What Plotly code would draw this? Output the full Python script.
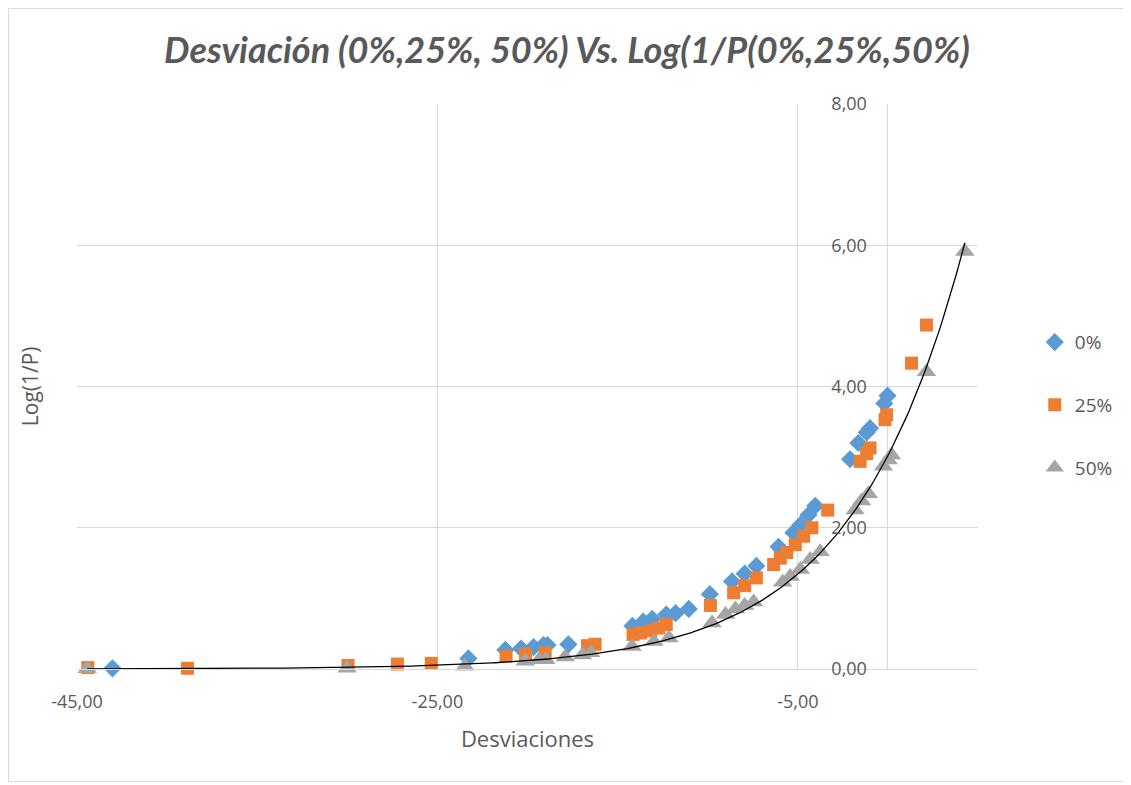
import numpy as np
import plotly.graph_objects as go

# ---- data ----
x_0 = [-43.03, -23.28, -21.23, -20.36, -19.66, -19.11, -18.89, -17.73, -14.18, -13.58,
       -13.08, -12.30, -11.78, -11.05, -9.88, -8.65, -7.95, -7.30, -6.07, -5.24,
       -4.86, -4.41, -4.03, -2.10, -1.64, -1.18, -0.99, -0.20, -0.02]
y_0 = [0.01, 0.15, 0.27, 0.29, 0.31, 0.34, 0.34, 0.35, 0.61, 0.67,
       0.71, 0.77, 0.79, 0.85, 1.06, 1.24, 1.35, 1.46, 1.73, 1.93,
       2.04, 2.18, 2.31, 2.97, 3.20, 3.35, 3.41, 3.76, 3.87]

x_25 = [-44.40, -38.87, -29.96, -27.22, -25.34, -21.19, -20.11, -19.02, -16.67, -16.25,
        -14.14, -13.72, -13.17, -12.71, -12.30, -9.85, -8.56, -7.95, -7.30, -6.34,
        -5.97, -5.61, -5.14, -4.68, -4.22, -3.34, -1.54, -1.18, -0.99, -0.16,
        -0.07, 1.31, 2.14]
y_25 = [0.02, 0.01, 0.05, 0.07, 0.08, 0.18, 0.21, 0.23, 0.33, 0.35,
        0.49, 0.51, 0.54, 0.58, 0.63, 0.90, 1.08, 1.18, 1.29, 1.48,
        1.57, 1.65, 1.76, 1.88, 2.00, 2.25, 2.94, 3.05, 3.13, 3.53,
        3.60, 4.33, 4.87]

x_50 = [-44.43, -30.01, -23.47, -20.12, -19.35, -18.98, -17.91, -16.95, -16.49, -14.20,
        -12.98, -12.15, -9.76, -9.01, -8.46, -7.95, -7.45, -5.84, -5.42, -4.86,
        -4.31, -3.76, -1.82, -1.46, -1.08, -0.25, 0.02, 0.20, 2.14, 4.27]
y_50 = [0.004, 0.012, 0.04, 0.11, 0.13, 0.13, 0.17, 0.20, 0.23, 0.32,
        0.39, 0.44, 0.65, 0.77, 0.85, 0.90, 0.95, 1.23, 1.31, 1.41,
        1.55, 1.66, 2.25, 2.38, 2.48, 2.87, 2.96, 3.03, 4.21, 5.91]

series_names = ["0%", "25%", "50%"]
x_tick_vals = [-45, -25, -5]
x_tick_text = ["-45,00", "-25,00", "-5,00"]
y_tick_vals = [0, 2, 4, 6, 8]
y_tick_text = ["0,00", "2,00", "4,00", "6,00", "8,00"]

# exponential trendline on 50% series (as Excel does: least squares on ln y)
b, ln_a = np.polyfit(np.array(x_50), np.log(np.array(y_50)), 1)
xt = np.linspace(min(x_50), max(x_50), 300)
yt = np.exp(ln_a) * np.exp(b * xt)

GREY_TXT = "#595959"
GRID = "#D9D9D9"

# page body has an 8px margin: figure is offset by (8, 8)
W, H = 1123, 777

fig = go.Figure()
fig.add_trace(go.Scatter(x=x_0, y=y_0, mode="markers", name=series_names[0],
                         legendgroup="a", cliponaxis=False,
                         marker=dict(symbol="diamond", size=14, color="#5B9BD5")))
fig.add_trace(go.Scatter(x=x_25, y=y_25, mode="markers", name=series_names[1],
                         legendgroup="b", cliponaxis=False,
                         marker=dict(symbol="square", size=13, color="#ED7D31")))
fig.add_trace(go.Scatter(x=x_50, y=y_50, mode="markers", name=series_names[2],
                         legendgroup="c", cliponaxis=False,
                         marker=dict(symbol="triangle-up", size=17, color="#A5A5A5")))
fig.add_trace(go.Scatter(x=xt, y=yt, mode="lines", showlegend=False, hoverinfo="skip",
                         line=dict(color="black", width=1.3)))

fig.update_layout(
    width=W, height=H,
    margin=dict(l=69, r=153, t=96, b=116),
    paper_bgcolor="white", plot_bgcolor="white",
    font=dict(family="Open Sans", color=GREY_TXT),
    title=dict(text="Desviación (0%,25%, 50%) Vs. Log(1/P(0%,25%,50%)",
               x=559 / W, xref="container", y=1 - 42 / H, yref="container",
               xanchor="center", yanchor="middle",
               font=dict(family="Lato", size=36, color=GREY_TXT,
                         weight="bold", style="italic")),
    xaxis=dict(range=[-45, 5], tickvals=x_tick_vals, ticktext=x_tick_text,
               showgrid=True, gridcolor=GRID, gridwidth=1.3,
               zeroline=True, zerolinecolor=GRID, zerolinewidth=1.3,
               showline=True, linecolor=GRID, linewidth=1.3,
               ticks="", ticklabelstandoff=16,
               tickfont=dict(size=18, color=GREY_TXT),
               title=dict(text="Desviaciones", font=dict(size=22, color=GREY_TXT),
                          standoff=19)),
    yaxis=dict(range=[0, 8], tickvals=y_tick_vals, ticktext=y_tick_text,
               showgrid=True, gridcolor=GRID, gridwidth=1.3,
               zeroline=False, showline=False,
               anchor="free", position=0.9,
               ticks="", ticklabelstandoff=21,
               tickfont=dict(size=18, color=GREY_TXT)),
    legend=dict(x=1.063, y=0.612, xanchor="left", yanchor="top",
                font=dict(size=19, color=GREY_TXT), tracegroupgap=35,
                bgcolor="rgba(0,0,0,0)"),
    showlegend=True,
)

fig.add_annotation(text="Log(1/P)", textangle=-90, xref="paper", yref="paper",
                   x=-0.0525, y=0.5, xanchor="center", yanchor="middle",
                   showarrow=False, font=dict(size=21, color=GREY_TXT))

# chart border
fig.add_shape(type="rect", xref="paper", yref="paper",
              x0=(0.5 - 69) / 901, x1=(1119 - 69) / 901,
              y0=(661.3 - 774) / 565.3, y1=(661.3 - 0.5) / 565.3,
              line=dict(color=GRID, width=1), layer="below")

fig.write_html("out.html")
